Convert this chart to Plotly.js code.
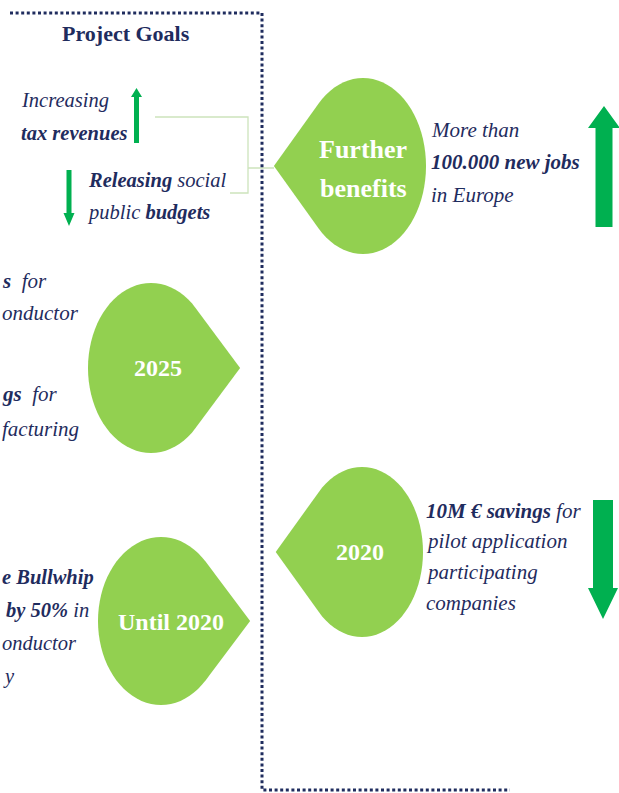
<!DOCTYPE html>
<html>
<head>
<meta charset="utf-8">
<script src="https://cdn.plot.ly/plotly-3.0.1.min.js"></script>
<style>html,body{margin:0;padding:0;background:#fff;}#chart{width:619px;height:793px;}</style>
</head>
<body>
<div id="chart"></div>
<script>
// ---- content (text) ----
const goalTitle = "Project Goals";
const topGoals = ["Increasing", "<b>tax revenues</b>", "<b>Releasing</b> social", "public <b>budgets</b>"];
const furtherLabel = ["Further", "benefits"];
const stageLabels = ["2025", "2020", "Until 2020"];
const benefitsText = ["More than", "<b>100.000 new jobs</b>", "in Europe"];
const goals2025 = ["<b>s</b>  for", "onductor", "<b>gs</b>  for", "facturing"];
const goalsUntil2020 = ["<b>e Bullwhip</b>", "<b>by 50%</b> in", "onductor", "y"];
const savings2020 = ["<b>10M € savings</b> for", "pilot application", "participating", "companies"];

// ---- styles ----
const NAVY = "#1f2c5e";
const LEAF = "#92d050";
const ARROW = "#00b050";
const FONT = "Liberation Serif, Times New Roman, serif";

function teardrop(cx, cy, rx, ry, dir) {
  const tipX = cx + dir * rx * Math.SQRT2;
  let p = "M" + tipX + "," + cy;
  const n = 60;
  for (let i = 0; i <= n; i++) {
    const t = Math.PI / 4 + (i / n) * (3 * Math.PI / 2);
    p += " L" + (cx + dir * rx * Math.cos(t)).toFixed(2) + "," + (cy + ry * Math.sin(t)).toFixed(2);
  }
  return p + " Z";
}
function arrowPath(cx, tail, base, tip, sh, hh) {
  return "M" + (cx - sh) + "," + tail + " L" + (cx - sh) + "," + base + " L" + (cx - hh) + "," + base +
    " L" + cx + "," + tip + " L" + (cx + hh) + "," + base + " L" + (cx + sh) + "," + base +
    " L" + (cx + sh) + "," + tail + " Z";
}

const shapes = [];
// dotted frame
shapes.push({type: "path", xref: "x", yref: "y", path: "M10,13 L262,13 L262,790 L510,790",
  line: {color: NAVY, width: 3, dash: "3px,2.6px"}});
// connector bracket
shapes.push({type: "path", xref: "x", yref: "y", layer: "below",
  path: "M155,117 L248,117 L248,193 L230,193 M248,168 L274,168",
  line: {color: "#cde4bc", width: 1.3}});
// leaves
[[363, 166, 63, 88, -1], [151, 368, 63, 85, 1], [362, 552, 61, 85, -1], [161, 621, 63, 84, 1]].forEach(g => {
  shapes.push({type: "path", xref: "x", yref: "y", path: teardrop(...g), fillcolor: LEAF, line: {width: 0}});
});
// arrows
[[604, 227, 128, 106, 8.5, 16], [603, 500, 588, 619, 10, 15], [136.5, 143, 97, 88, 2.5, 5.5], [69, 170, 213, 226, 2.5, 5.5]].forEach(a => {
  shapes.push({type: "path", xref: "x", yref: "y", path: arrowPath(...a), fillcolor: ARROW, line: {width: 0}});
});

const ann = [];
function addText(text, x, y, xanchor, size, color, italic) {
  ann.push({text: italic ? "<i>" + text + "</i>" : text, x: x, y: y, xref: "x", yref: "y",
    xanchor: xanchor, yanchor: "middle", showarrow: false, borderpad: 0,
    font: {family: FONT, size: size, color: color}});
}
addText("<b>" + goalTitle + "</b>", 126, 33, "center", 22, NAVY, false);
[[20, 100], [20, 133], [87, 180], [86, 212]].forEach((p, i) => addText(topGoals[i], p[0], p[1], "left", 20.5, NAVY, true));
addText("<b>" + furtherLabel[0] + "</b>", 363, 149, "center", 26, "#ffffff", false);
addText("<b>" + furtherLabel[1] + "</b>", 363, 188, "center", 26, "#ffffff", false);
[[158, 368], [360, 552], [171, 622]].forEach((p, i) => addText("<b>" + stageLabels[i] + "</b>", p[0], p[1], "center", 24, "#ffffff", false));
[130, 162, 195].forEach((y, i) => addText(benefitsText[i], 430, y, "left", 21, NAVY, true));
[511, 541, 572, 603].forEach((y, i) => addText(savings2020[i], 425, y, "left", 21, NAVY, true));
[[1, 281], [1, 313], [1, 394], [1, 429]].forEach((p, i) => addText(goals2025[i], p[0], p[1], "left", 21, NAVY, true));
[[1, 577, "left"], [90, 610, "right"], [1, 643, "left"], [2, 676, "left"]].forEach((p, i) => addText(goalsUntil2020[i], p[0], p[1], p[2], 20.5, NAVY, true));

const layout = {
  width: 619, height: 793,
  margin: {l: 0, r: 0, t: 0, b: 0, pad: 0},
  paper_bgcolor: "#ffffff", plot_bgcolor: "#ffffff",
  showlegend: false,
  xaxis: {range: [0, 619], visible: false, fixedrange: true},
  yaxis: {range: [793, 0], visible: false, fixedrange: true},
  shapes: shapes,
  annotations: ann
};
Plotly.newPlot("chart", [{x: [], y: [], type: "scatter", mode: "markers", hoverinfo: "skip"}], layout,
  {displayModeBar: false, staticPlot: true});
</script>
</body>
</html>
